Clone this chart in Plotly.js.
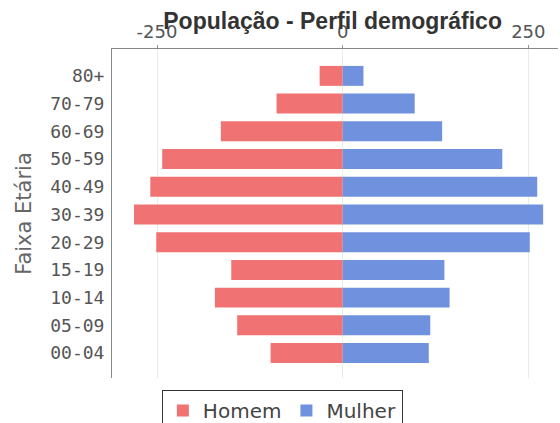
<!DOCTYPE html>
<html><head><meta charset="utf-8">
<script src="https://cdn.plot.ly/plotly-3.0.1.min.js"></script>
<style>body{margin:0;background:#fff}#c{width:560px;height:423px}</style>
</head><body><div id="c"></div>
<script>
const categories = ["00-04","05-09","10-14","15-19","20-29","30-39","40-49","50-59","60-69","70-79","80+"];
const homem = [-97,-142,-172,-150,-251,-281,-259,-243,-164,-89,-31];
const mulher = [116,118,144,137,252,270,262,215,134,97,28];
const tickVals = [-250,0,250];
const tickText = ["-250","0","250"];

const traces = [
  {type:'bar', orientation:'h', name:'Homem', y:categories, x:homem, width:0.72,
   marker:{color:'#f07272'}},
  {type:'bar', orientation:'h', name:'Mulher', y:categories, x:mulher, width:0.72,
   marker:{color:'#7092de'}}
];
const layout = {
  width:560, height:423,
  margin:{l:112, r:2, t:49, b:45},
  paper_bgcolor:'#fff', plot_bgcolor:'#fff',
  barmode:'overlay',
  font:{family:'DejaVu Sans, Verdana, sans-serif', color:'#555'},
  title:{text:'<b>População - Perfil demográfico</b>', x:0.594, xref:'container', y:0.950, yref:'container',
    xanchor:'center', yanchor:'middle', font:{family:'Liberation Sans, Arial, sans-serif', size:23, color:'#333'}},
  xaxis:{side:'top', range:[-310.6,290], tickvals:tickVals, ticktext:tickText,
    tickfont:{size:18, color:'#555'}, showgrid:true, gridcolor:'#e8ede0', zeroline:false,
    ticks:'outside', ticklen:3, tickcolor:'#999', showline:true, linecolor:'#888', mirror:false},
  yaxis:{type:'category', categoryorder:'array', categoryarray:categories, range:[-0.9,10.97],
    tickfont:{size:18, color:'#555', family:'DejaVu Sans Mono, monospace'}, showgrid:false, zeroline:false,
    showline:true, linecolor:'#888', ticks:'', ticklabelstandoff:3,
    title:{text:'Faixa Etária', font:{size:21, color:'#666'}, standoff:12}},
  showlegend:true,
  legend:{orientation:'h', x:0.382, xanchor:'center', yref:'container', y:0.078, yanchor:'top',
    bordercolor:'#333', borderwidth:1, font:{size:20, color:'#444'}, itemwidth:30,
    traceorder:'normal'}
};
Plotly.newPlot('c', traces, layout, {displayModeBar:false});
</script></body></html>
